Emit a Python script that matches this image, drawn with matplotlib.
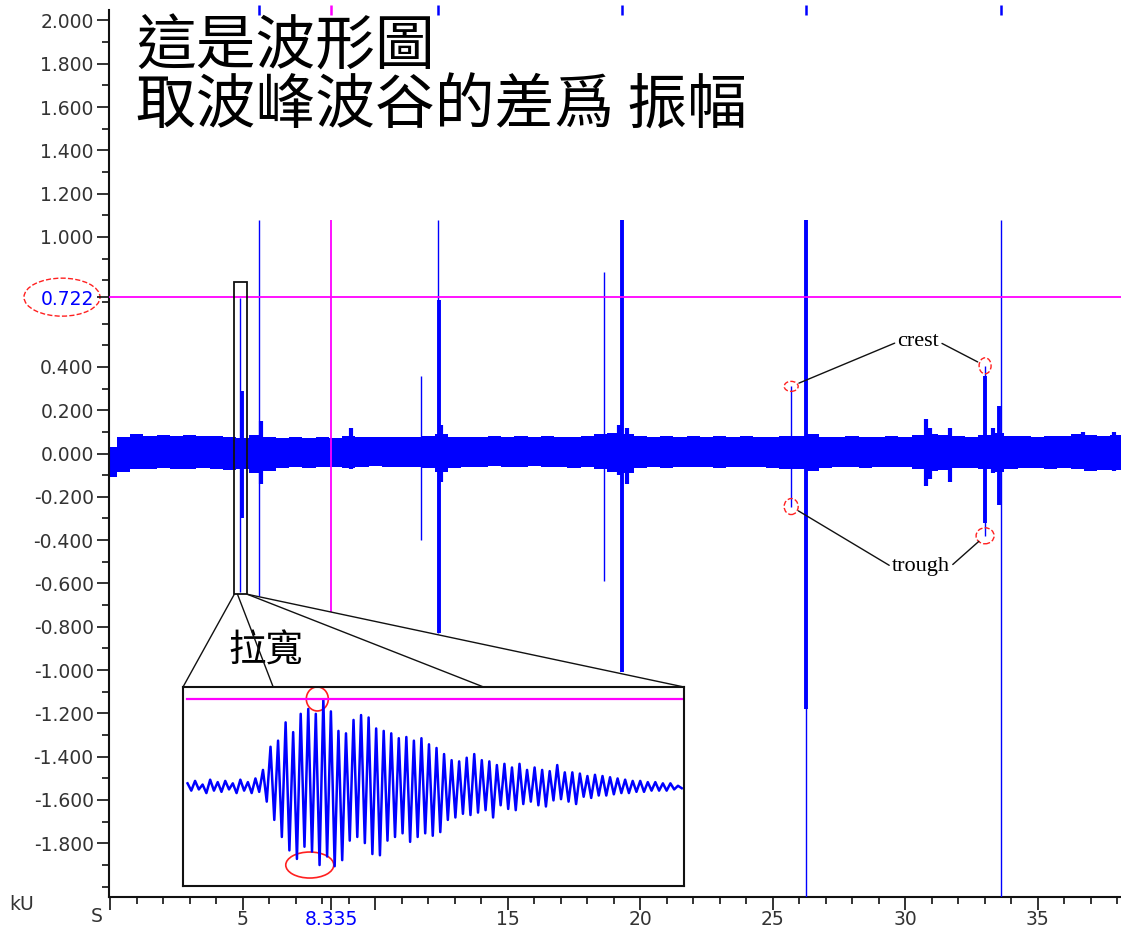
import numpy as np
import matplotlib.pyplot as plt
from matplotlib.patches import Ellipse, Rectangle, ConnectionPatch

plt.rcParams['font.family'] = ['DejaVu Sans']

CJK = ['Noto Sans CJK TC', 'DejaVu Sans']
BLUE = '#0000ff'
MAGENTA = '#ff00ff'
RED = '#ff2020'

# ---- main trace: noise band envelope (kU), every 0.5 s ----
band_x = np.arange(0.0, 39.0, 0.5)
band_hi = [0.030, 0.075, 0.088, 0.082, 0.085, 0.080, 0.084, 0.080, 0.082, 0.078,
           0.072, 0.085, 0.074, 0.070, 0.074, 0.072, 0.076, 0.072, 0.080, 0.076,
           0.078, 0.074, 0.076, 0.078, 0.080, 0.090, 0.076, 0.078, 0.074, 0.080,
           0.078, 0.082, 0.076, 0.080, 0.078, 0.076, 0.080, 0.088, 0.095, 0.092,
           0.080, 0.078, 0.082, 0.076, 0.080, 0.078, 0.082, 0.076, 0.080, 0.078,
           0.076, 0.080, 0.082, 0.090, 0.078, 0.076, 0.080, 0.078, 0.076, 0.080,
           0.078, 0.084, 0.090, 0.086, 0.080, 0.078, 0.084, 0.095, 0.082, 0.080,
           0.078, 0.082, 0.080, 0.090, 0.085, 0.082, 0.085, 0.080]
band_lo = [-0.110, -0.085, -0.072, -0.070, -0.068, -0.072, -0.070, -0.068, -0.072, -0.074,
           -0.072, -0.090, -0.080, -0.066, -0.064, -0.066, -0.062, -0.064, -0.066, -0.062,
           -0.060, -0.064, -0.062, -0.064, -0.066, -0.085, -0.066, -0.062, -0.064, -0.060,
           -0.062, -0.064, -0.060, -0.062, -0.064, -0.066, -0.064, -0.070, -0.085, -0.090,
           -0.066, -0.064, -0.066, -0.062, -0.064, -0.062, -0.066, -0.064, -0.062, -0.064,
           -0.066, -0.070, -0.072, -0.080, -0.066, -0.064, -0.062, -0.066, -0.064, -0.062,
           -0.064, -0.070, -0.080, -0.075, -0.068, -0.066, -0.070, -0.085, -0.070, -0.066,
           -0.068, -0.072, -0.068, -0.070, -0.080, -0.075, -0.078, -0.070]

# short bursts riding on the noise
burst_x = [5.70, 9.10, 12.50, 19.20, 19.50, 30.80, 30.95, 31.70, 33.30, 36.70, 37.90]
burst_hi = [0.15, 0.12, 0.13, 0.13, 0.12, 0.16, 0.12, 0.12, 0.12, 0.10, 0.10]
burst_lo = [-0.14, -0.07, -0.13, -0.10, -0.14, -0.15, -0.12, -0.13, -0.09, -0.07, -0.08]

# narrow spikes (thin trace)
spike_x = [4.91, 5.62, 11.72, 12.38, 18.64, 25.70, 26.26, 33.02, 33.62]
spike_top = [0.72, 1.08, 0.36, 1.08, 0.84, 0.31, 1.08, 0.405, 1.08]
spike_bottom = [-0.64, -0.66, -0.40, -0.83, -0.59, -0.245, -2.05, -0.38, -2.05]

# dense parts of the spikes (thick trace)
dense_x = [4.96, 12.40, 19.32, 26.26, 33.02, 33.56]
dense_top = [0.29, 0.71, 1.08, 1.08, 0.36, 0.22]
dense_bottom = [-0.30, -0.83, -1.01, -1.18, -0.32, -0.24]

# spikes running off the top of the plot
clip_x = [5.62, 12.38, 19.32, 26.26, 33.62]
clip_band = (2.025, 2.07)

# cursors
cursor_x = 8.335
cursor_y = 0.722
cursor_x_span = (-0.73, 1.08)

# marked crests / troughs
crest_x = [25.70, 33.02]
crest_y = [0.31, 0.405]
trough_x = [25.70, 33.02]
trough_y = [-0.245, -0.38]

# zoomed window
window_x = (4.68, 5.17)
window_y = (-0.65, 0.79)
zoom_peaks = [0.03, 0.05, 0.02, 0.06, 0.04, 0.05, 0.03, 0.06, 0.04, 0.07,
              0.14, 0.33, 0.38, 0.53, 0.45, 0.60, 0.64, 0.60, 0.72, 0.62,
              0.46, 0.44, 0.55, 0.59, 0.57, 0.48, 0.46, 0.44, 0.40, 0.41,
              0.38, 0.40, 0.35, 0.32, 0.27, 0.22, 0.21, 0.24, 0.27, 0.22,
              0.21, 0.18, 0.19, 0.16, 0.19, 0.14, 0.16, 0.14, 0.13, 0.18,
              0.12, 0.12, 0.11, 0.09, 0.10, 0.09, 0.08, 0.07, 0.06, 0.05,
              0.05, 0.04, 0.04, 0.03, 0.03, 0.01]
zoom_troughs = [-0.03, -0.02, -0.05, -0.03, -0.04, -0.02, -0.05, -0.03, -0.05, -0.04,
                -0.12, -0.27, -0.41, -0.52, -0.59, -0.49, -0.53, -0.64, -0.57, -0.65,
                -0.60, -0.44, -0.41, -0.46, -0.55, -0.56, -0.44, -0.41, -0.38, -0.45,
                -0.41, -0.38, -0.40, -0.37, -0.27, -0.25, -0.22, -0.23, -0.21, -0.19,
                -0.25, -0.15, -0.18, -0.19, -0.14, -0.12, -0.15, -0.16, -0.11, -0.10,
                -0.12, -0.14, -0.08, -0.09, -0.07, -0.07, -0.06, -0.05, -0.05, -0.04,
                -0.04, -0.03, -0.03, -0.03, -0.02, -0.01]
zoom_crest_idx = 18
zoom_trough_idx = 17

# axis ticks
y_major = [2.0, 1.8, 1.6, 1.4, 1.2, 1.0, 0.4, 0.2, 0.0, -0.2, -0.4, -0.6,
           -0.8, -1.0, -1.2, -1.4, -1.6, -1.8]
y_minor = np.round(np.arange(-2.0, 2.01, 0.1), 1)
x_major = [0, 5, 10, 15, 20, 25, 30, 35]
x_labels = ['', '5', '', '15', '20', '25', '30', '35']
x_minor = np.arange(0, 39, 1)

title_lines = ['這是波形圖', '取波峰波谷的差爲 振幅']

# ---------------------------------------------------------------
W, H = 1121, 932
fig = plt.figure(figsize=(W / 100, H / 100), dpi=100)
ax = fig.add_axes([109 / W, 35 / H, 1 - 109 / W, 887 / H])
xlim = (-0.05, 38.15)
ylim = (-2.048, 2.048)
ax.set_xlim(*xlim)
ax.set_ylim(*ylim)
px_x = (W - 109) / (xlim[1] - xlim[0])
px_y = 887 / (ylim[1] - ylim[0])

ax.fill_between(band_x, band_lo, band_hi, step='mid', color=BLUE, lw=0, zorder=2)
ax.vlines(burst_x, burst_lo, burst_hi, color=BLUE, lw=3.0, zorder=2)
ax.vlines(spike_x, spike_bottom, spike_top, color=BLUE, lw=1.0, zorder=3)
ax.vlines(dense_x, dense_bottom, dense_top, color=BLUE, lw=2.8, zorder=3)
ax.vlines(clip_x, *clip_band, color=BLUE, lw=1.8, zorder=3, clip_on=False)
ax.vlines([cursor_x], *clip_band, color=MAGENTA, lw=1.8, zorder=3, clip_on=False)

ax.axhline(cursor_y, color=MAGENTA, lw=1.3, zorder=4)
ax.vlines([cursor_x], *cursor_x_span, color=MAGENTA, lw=1.3, zorder=4)

# axes styling
for side in ['top', 'right']:
    ax.spines[side].set_visible(False)
for side in ['left', 'bottom']:
    ax.spines[side].set_linewidth(1.5)
    ax.spines[side].set_color('#111111')

ax.set_yticks(y_major + [cursor_y])
ax.set_yticklabels(['%.3f' % v for v in y_major] + ['%.3f' % cursor_y])
ax.set_yticks(y_minor, minor=True)
ax.set_xticks(x_major + [cursor_x])
ax.set_xticklabels(x_labels + ['%.3f' % cursor_x])
ax.set_xticks(x_minor, minor=True)
ax.tick_params(which='major', length=9, width=1.2, color='#111111',
               labelsize=13.5, labelcolor='#333333')
ax.tick_params(which='minor', length=5, width=1.2, color='#111111')
ax.tick_params(axis='y', which='major', pad=2)
ax.tick_params(axis='x', which='major', pad=0.5)
for t in [ax.yaxis.get_major_ticks()[-1], ax.xaxis.get_major_ticks()[-1]]:
    t.tick1line.set_color(BLUE)
    t.label1.set_color(BLUE)

fig.text(97 / W, 1 - 917 / H, 'S', fontsize=13.5, color='#333333', ha='center', va='center')
fig.text(22 / W, 1 - 905 / H, 'kU', fontsize=13.5, color='#333333', ha='center', va='center')

# red ellipse round the cursor value label
ax.add_patch(Ellipse((-47 / (W - 109), cursor_y), 76 / (W - 109), 38 / px_y,
                     transform=ax.get_yaxis_transform(), fill=False, ec=RED, ls='--',
                     lw=1.0, clip_on=False))

# crest / trough circles and leaders
for cx, cy, w, h in zip(crest_x + trough_x, crest_y + trough_y, [14, 12, 14, 18], [10, 16, 16, 16]):
    ax.add_patch(Ellipse((cx, cy), w / px_x, h / px_y, fill=False, ec=RED, ls='--',
                         lw=1.0, zorder=6))

serif = ['Liberation Serif', 'DejaVu Serif']
for word, px_, py_, tx, ty in [('crest', crest_x, crest_y, 30.5, 0.515),
                              ('trough', trough_x, trough_y, 30.6, -0.524)]:
    for k, (hx, hy) in enumerate(zip(px_, py_)):
        ax.annotate(word, xy=(hx, hy), xytext=(tx, ty), fontsize=16, family=serif,
                    color='black' if k == 0 else 'none', ha='center', va='center',
                    arrowprops=dict(arrowstyle='-', color='#111111', lw=1.0,
                                    relpos=(0, 0.5) if k == 0 else (1, 0.5),
                                    shrinkA=0, shrinkB=6), zorder=6)

# window rectangle
ax.add_patch(Rectangle((window_x[0], window_y[0]), window_x[1] - window_x[0],
                       window_y[1] - window_y[0], fill=False, ec='#111111', lw=1.3, zorder=5))

# inset
iax = fig.add_axes([183 / W, 46 / H, 501 / W, 199 / H])
zx, zy = [], []
for i, (p, t) in enumerate(zip(zoom_peaks, zoom_troughs)):
    zx += [i, i + 0.5]
    zy += [p, t]
iax.plot(zx, zy, color=BLUE, lw=1.8)
iax.set_xlim(-0.6, len(zoom_peaks) - 0.2)
iax.set_ylim(-0.812, 0.82)
iax.axhline(cursor_y, xmin=0.008, xmax=1, color=MAGENTA, lw=1.6)
ipx_x = 501 / (len(zoom_peaks) + 0.4)
ipx_y = 199 / 1.632
iax.add_patch(Ellipse((zoom_crest_idx - 0.8, cursor_y), 22 / ipx_x, 24 / ipx_y, fill=False,
                      ec=RED, lw=1.2))
iax.add_patch(Ellipse((zoom_trough_idx - 0.8, zoom_troughs[zoom_trough_idx]), 48 / ipx_x,
                      26 / ipx_y, fill=False, ec=RED, lw=1.2))
iax.set_xticks([])
iax.set_yticks([])
for s in iax.spines.values():
    s.set_linewidth(1.5)
    s.set_color('#111111')

# connectors from window to inset
for (wx, fx) in [(window_x[0], 0.0), (window_x[0] + 0.12, 0.18),
                 (window_x[1], 0.6), (window_x[1], 1.0)]:
    con = ConnectionPatch(xyA=(wx, window_y[0]), coordsA=ax.transData,
                          xyB=(fx, 1.0), coordsB=iax.transAxes,
                          color='#111111', lw=1.0, zorder=5)
    fig.add_artist(con)

fig.text(228 / W, 1 - 651 / H, '拉寬', fontsize=27, family=CJK, ha='left', va='center')

# title
fig.text(136 / W, 1 - 48 / H, title_lines[0], fontsize=43, family=CJK, ha='left', va='center')
fig.text(136 / W, 1 - 107 / H, title_lines[1], fontsize=43, family=CJK, ha='left', va='center')

fig.savefig('out.png', dpi=100)
